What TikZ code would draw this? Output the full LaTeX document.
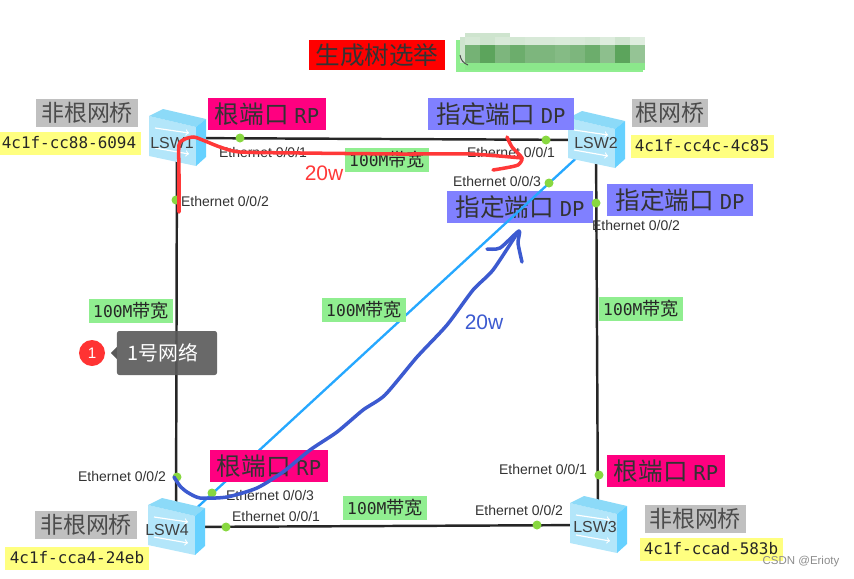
\documentclass[tikz,border=0pt]{standalone}
\usepackage{fontspec}
\usepackage{xcolor}
\usepackage{tikz}
\usetikzlibrary{arrows,backgrounds,positioning}
\setmainfont{Liberation Sans}
\setmonofont{DejaVu Sans Mono}
\newfontfamily\cjk{Noto Sans CJK SC}
\definecolor{rpcolor}{HTML}{FF0080}
\definecolor{dpcolor}{HTML}{8080FF}
\definecolor{bridgecolor}{HTML}{C0C0C0}
\definecolor{maccolor}{HTML}{FFFF80}
\definecolor{bwcolor}{HTML}{90EE90}
\definecolor{portcolor}{HTML}{88D840}
\definecolor{redpen}{HTML}{FF3838}
\definecolor{bluepen}{HTML}{3C5AD0}
\definecolor{mosaic}{HTML}{5CA45C}
\newcommand{\tagfont}{\cjk\fontsize{21}{24}\selectfont}
\newcommand{\latin}[1]{\hspace{5pt}{\ttfamily\fontsize{17.5}{20}\selectfont #1}}
\newcommand{\bwtext}{{\ttfamily\fontsize{13.9}{16}\selectfont 100M}带宽}
\tikzset{%
	switch/.style   = {minimum size = 1.2cm, inner sep = 0pt}, % Switch
	swlabel/.style  = {inner sep = 0pt, text = black!75, font = \fontsize{13.6}{15}\selectfont},
	titlebox/.style = {fill=red, inner sep = 0pt, minimum width = 4.05cm, minimum height = 0.9cm, text = black!80, font = \tagfont},
	rp/.style       = {fill=rpcolor, inner sep = 0pt, minimum width = 3.55cm, minimum height = 0.96cm, text = black!80, font = \tagfont},
	dp/.style       = {fill=dpcolor, inner sep = 0pt, minimum width = 4.38cm, minimum height = 0.96cm, text = black!80, font = \tagfont},
	bridge/.style   = {fill=bridgecolor, inner sep = 0pt, minimum height = 0.84cm, text = black!70, font = \cjk\fontsize{19.6}{22}\selectfont},
	mac/.style      = {fill=maccolor, inner sep = 0pt, minimum width = 4.29cm, minimum height = 0.69cm, text = black!85, font = \ttfamily\fontsize{13.6}{15}\selectfont},
	bw/.style       = {fill=bwcolor, inner sep = 0pt, minimum width = 2.52cm, minimum height = 0.72cm, text = black!85, font = \cjk\fontsize{15.5}{18}\selectfont},
	port/.style     = {fill=portcolor, circle, inner sep = 0pt, minimum size = 0.27cm}, % Port
	eth/.style      = {inner sep = 0pt, text = black!80, font = \fontsize{11.95}{14}\selectfont},
	link/.style     = {draw=black!85, line width = 2.1pt},
	pen/.style      = {line width = 3pt, line cap = round, line join = round},
}
\newcommand{\switchicon}[4]{%
	\node[switch] (#1) at (#2) {};
	\begin{scope}[shift={(#2)}]
		\fill[cyan!30!white] (-28,-22) -- (19,-11) -- (19,28) -- (-28,18) -- cycle;
		\fill[cyan!45!white] (-28,-22) -- (-14,-29) -- (29,-19) -- (19,-11) -- cycle;
		\fill[blue!30!cyan!60!white] (19,-11) -- (29,-19) -- (29,19) -- (19,28) -- cycle;
		\draw[white,line width=1pt,->] (-22,-10) -- (12,-5);
		\draw[white,line width=1pt,->] (-22,10) -- (12,16);
		\node[swlabel] (#1label) at (#3) {#4};
	\end{scope}
}

\begin{document}
\begin{tikzpicture}[x=0.03cm,y=-0.03cm]
		\useasboundingbox (0,0) rectangle (854,578);
		\switchicon{lsw1}{177,138}{-5,5}{LSW1}
		\switchicon{lsw2}{596,140}{0,3}{LSW2}
		\switchicon{lsw3}{598,525}{-3,2}{LSW3}
		\switchicon{lsw4}{176,527}{-9,3}{LSW4}
		% title
		\node[titlebox] (title) at (377,55) {生成树选举};
		\node[fill=bwcolor,minimum width=5.61cm,minimum height=0.96cm,inner sep=0pt] (name) at (549.5,56) {};
		\foreach \col/\shade [count=\i from 0] in {85/85,100/100,80/80,90/90,80/80,80/80,75/75,80/80,90/90,70/70,100/100,65/65} {
			\pgfmathsetmacro{\topshade}{\shade*0.3}
			\fill[mosaic!\topshade!white] (465+15*\i,37) rectangle (480+15*\i,45);
			\fill[mosaic!\shade!white] (465+15*\i,45) rectangle (480+15*\i,63);
			\fill[bwcolor!90!mosaic] (465+15*\i,63) rectangle (480+15*\i,70);
		}
		\fill[mosaic!30!white] (465,33) rectangle (510,37);
		\fill[mosaic!30!white] (460,37) rectangle (465,63);
		\draw[black!70,line width=0.8pt] (460,55) to[bend right=30] (468,65);
		% tags
		\node[bridge,minimum width=3.03cm] (bridge1) at (87,113) {非根网桥};
		\node[mac] (mac1) at (69,143) {4c1f-cc88-6094};
		\node[rp] (rp1) at (267,114) {根端口\latin{RP}};
		\node[dp] (dp1) at (501,114) {指定端口\latin{DP}};
		\node[bridge,minimum width=2.28cm] (bridge2) at (670,113) {根网桥};
		\node[mac] (mac2) at (702,146) {4c1f-cc4c-4c85};
		\node[dp] (dp3) at (680,200) {指定端口\latin{DP}};
		\node[rp] (rp4) at (269,466) {根端口\latin{RP}};
		\node[bridge,minimum width=3.03cm] (bridge4) at (86,525) {非根网桥};
		\node[mac] (mac4) at (77,558) {4c1f-cca4-24eb};
		\node[rp] (rp3) at (666,471) {根端口\latin{RP}};
		\node[bridge,minimum width=3.03cm] (bridge3) at (695,519) {非根网桥};
		\node[mac] (mac3) at (711,549) {4c1f-ccad-583b};
		\node[bw] (bwtop) at (387,160) {\bwtext};
		\node[bw] (bwleft) at (131,311) {\bwtext};
		\node[bw] (bwmid) at (364,310) {\bwtext};
		\node[bw] (bwright) at (641,309) {\bwtext};
		\node[bw] (bwbottom) at (385,508) {\bwtext};
		% links
		\begin{pgfonlayer}{background}
			\node[dp] (dp2) at (520,207) {指定端口\latin{DP}};
			\draw[link] (lsw1) -- (lsw2);
			\draw[link] (lsw2) -- (lsw3);
			\draw[link] (lsw3) -- (lsw4);
			\draw[link] (lsw4) -- (lsw1);
			\draw[line width=2pt,color=blue!40!cyan!85!white] (lsw4) -- (lsw2);
		\end{pgfonlayer}
		% ports
		\node[port] (p11) at (240,138) {};
		\node[port] (p12) at (176,200) {};
		\node[port] (p21) at (546,140) {};
		\node[port] (p23) at (549,183) {};
		\node[port] (p22) at (596,203) {};
		\node[port] (p31) at (599,475) {};
		\node[port] (p32) at (537,525) {};
		\node[port] (p42) at (177,477) {};
		\node[port] (p43) at (212,493) {};
		\node[port] (p41) at (226,527) {};
		\node[eth] (e11) at (263,152) {Ethernet 0/0/1};
		\node[eth] (e12) at (225,201) {Ethernet 0/0/2};
		\node[eth] (e21) at (511,152) {Ethernet 0/0/1};
		\node[eth] (e23) at (497,181) {Ethernet 0/0/3};
		\node[eth] (e22) at (636,225) {Ethernet 0/0/2};
		\node[eth] (e31) at (543,469) {Ethernet 0/0/1};
		\node[eth] (e32) at (519,510) {Ethernet 0/0/2};
		\node[eth] (e42) at (122,476) {Ethernet 0/0/2};
		\node[eth] (e43) at (270,495) {Ethernet 0/0/3};
		\node[eth] (e41) at (276,516) {Ethernet 0/0/1};
		% tooltip
		\node[circle,fill=red!80!white,minimum size=0.78cm,inner sep=0pt,text=white,font=\fontsize{13}{15}\selectfont] (badge) at (92,353) {1};
		\node[rectangle,rounded corners=2pt,fill=black!65,fill opacity=0.9,text opacity=1,text=white,minimum width=3cm,minimum height=1.32cm,inner sep=0pt,font=\cjk\fontsize{17}{20}\selectfont] (tip) at (167,353) {1号网络\kern7pt};
		\fill[black!65] (tip.west) ++(0,-6) -- (111,353) -- ++(6,6) -- cycle;
		% pen strokes
		\draw[pen,redpen] plot[smooth,tension=0.4] coordinates {(179,212) (179,175) (179,145) (185,139) (194,137) (205,141) (220,147) (240,152) (300,153) (400,154) (470,154) (522,158)};
		\draw[pen,redpen] plot[smooth,tension=0.4] coordinates {(507,137) (512,147) (522,158) (518,165) (505,168) (493,170)};
		\node[text=redpen,inner sep=0pt,font=\fontsize{17.9}{20}\selectfont] (redload) at (324,173) {20w};
		\draw[pen,bluepen] plot[smooth,tension=0.4] coordinates {(174,477) (180,486) (187,492) (200,498) (227,497) (257,488) (283,472) (310,450) (337,432) (363,410) (385,395) (417,357) (447,325) (473,290) (493,270) (518,232)};
		\draw[pen,bluepen] plot[smooth,tension=0.4] coordinates {(487,249) (500,248) (519,231) (518,243) (522,262)};
		\node[text=bluepen,inner sep=0pt,font=\fontsize{17.9}{20}\selectfont] (blueload) at (484,322) {20w};
		\node[text=black!45,inner sep=0pt,font=\fontsize{9.8}{12}\selectfont] (mark) at (801,562) {CSDN @Erioty};
		\end{tikzpicture}
\end{document}
